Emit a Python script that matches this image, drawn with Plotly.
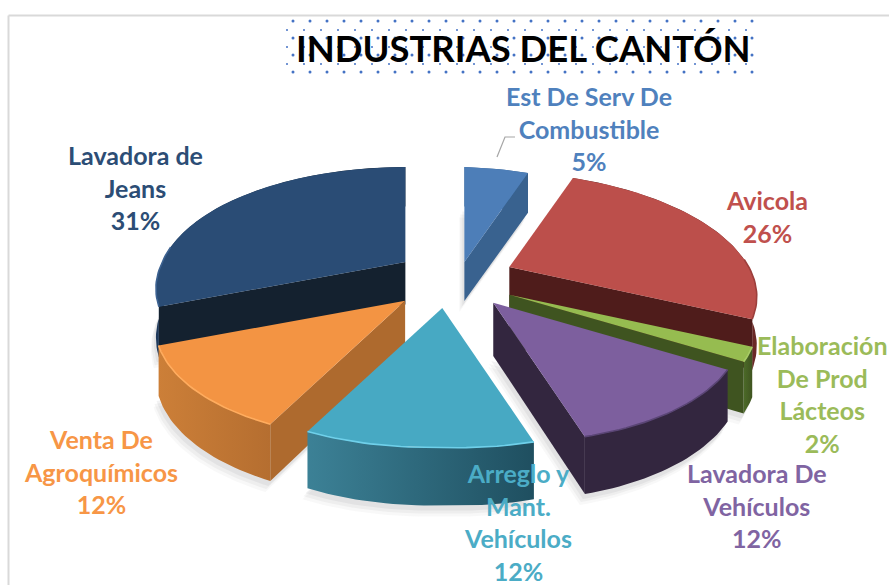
import numpy as np
import plotly.graph_objects as go

title = "INDUSTRIAS DEL CANTÓN"
categories = ["Est De Serv De<br>Combustible", "Avicola", "Elaboración<br>De Prod<br>Lácteos",
              "Lavadora De<br>Vehículos", "Arreglo y<br>Mant.<br>Vehículos",
              "Venta De<br>Agroquímicos", "Lavadora de<br>Jeans"]
values = [5, 26, 2, 12, 12, 12, 31]
text_colors = ["#4f81bd", "#c0504d", "#9bbb59", "#8064a2", "#4bacc6", "#f79646", "#2c4d75"]
top_colors = ["#4d7eb8", "#bc4f4b", "#96bc50", "#7d5f9e", "#47a9c3", "#f39443", "#2a4c75"]
cut_colors = ["#39628f", "#4f1c1b", "#3f5420", "#33263f", "#2c6275", "#ae6a2e", "#14212f"]
rim_left = ["#39628f", "#4f1c1b", "#4c6a28", "#33263f", "#3c8196", "#cc7f38", "#1f3a5c"]
rim_right = ["#39628f", "#6b2826", "#3f5420", "#33263f", "#1f4f60", "#b56e30", "#14212f"]
glint = ["#4d7eb8", "#9c3f3c", "#a8cc66", "#5a4575", "#6fd0ea", "#ffac5e", "#3d6291"]
label_xy = [(589, 128), (767, 216), (822, 394), (757, 505), (518, 522), (101, 471), (135, 187)]

# projection of the pie plane onto the page
CX, CY, R, TILT, PERSP, DEPTH, SHEAR, DROP = 455.0, 285.0, 243.0, 113.0, 0.19, 47.0, 9.0, 0.03
PULL_X, PULL_FRONT, PULL_BACK = 60.0, 23.0, 42.0


def apex(mid):
    """Page position of a pulled slice's point, and its wall height there."""
    s, c = np.sin(mid), np.cos(mid)
    dy = min(PULL_BACK * c, PULL_FRONT) if c > 0 else PULL_FRONT * c
    dx = PULL_X * s + (SHEAR * c if (c < 0 and s < 0) else 0.0)
    return CX + dx, CY - dy, DEPTH * (1 - 0.17 * c)


def rim(a0, a1, ax, ay, down=0.0):
    th = np.linspace(a0, a1, max(8, int((a1 - a0) * 40)))
    x, y = np.sin(th), np.cos(th)
    w = 1.0 / (1.0 + PERSP * y)
    sx = R * x * w + SHEAR * np.where(x < 0, np.minimum(y, 0), 0) * w
    sy = -TILT * y * w + DROP * np.maximum(sx, 0) + DEPTH * w * down
    return ax + sx, ay + sy, y


fig = go.Figure()


def poly(xs, ys, color=None, name="", gradient=None):
    kw = dict(fillgradient=gradient) if gradient else dict(fillcolor=color)
    fig.add_trace(go.Scatter(x=list(xs), y=list(ys), mode="lines", fill="toself", line=dict(width=0),
                             name=name, hoverinfo="skip", showlegend=False, **kw))


# slice angles, clockwise from 12 o'clock
edges = np.cumsum([0] + values) / sum(values) * 2 * np.pi
mids = (edges[:-1] + edges[1:]) / 2
order = np.argsort(-np.cos(mids))

# soft shadow under each slice
for i in order:
    ax, ay, h = apex(mids[i])
    bx, by, _ = rim(edges[i], edges[i + 1], ax, ay, 1.0)
    px, py = np.r_[ax, bx], np.r_[ay + h, by]
    for dx, dy, alpha in [(-5, 11, 0.05), (-4, 8, 0.07), (-2, 5, 0.09)]:
        poly(px + dx, py + dy, f"rgba(110,110,120,{alpha})")

for i in order:
    ax, ay, h = apex(mids[i])
    name = categories[i].replace("<br>", " ")
    tx, ty, yy = rim(edges[i], edges[i + 1], ax, ay)
    bx, by, _ = rim(edges[i], edges[i + 1], ax, ay, 1.0)
    grad = dict(type="horizontal", colorscale=[[0, rim_left[i]], [1, rim_right[i]]])
    poly(np.r_[tx, bx[::-1]], np.r_[ty, by[::-1]], name=name, gradient=grad)
    # cut walls, where they face the viewer
    low = ay + h
    for e, sign in [(0, 1), (-1, -1)]:
        area = ((tx[e] - ax) * (low - ay)) * sign
        if area < 0:
            poly([ax, tx[e], bx[e], ax], [ay, ty[e], by[e], low], cut_colors[i], name)
    # top face
    poly(np.r_[ax, tx], np.r_[ay, ty], top_colors[i], name)
    # bevel highlight on the front of the rim
    front = np.where(yy < 0.15, tx, np.nan)
    fig.add_trace(go.Scatter(x=front, y=ty, mode="lines", line=dict(color=glint[i], width=1.6),
                             hoverinfo="skip", showlegend=False, connectgaps=False))

# leader line of the first label
fig.add_trace(go.Scatter(x=[497, 505, 515], y=[157, 137, 137], mode="lines",
                         line=dict(color="#a6a6a6", width=1.2), hoverinfo="skip", showlegend=False))

# dotted frame of the title box
big_x, big_y = np.arange(293, 755, 17), np.arange(21, 73, 17)
small_x, small_y = np.arange(287, 755, 17), np.arange(30, 65, 17)
for gx, gy, size in [(big_x, big_y, 3), (small_x, small_y, 2)]:
    mx, my = np.meshgrid(gx, gy)
    fig.add_trace(go.Scatter(x=mx.ravel(), y=my.ravel(), mode="markers", hoverinfo="skip", showlegend=False,
                             marker=dict(color="#4472c4", size=size, line=dict(width=0))))

for cat, val, col, (lx, ly) in zip(categories, values, text_colors, label_xy):
    fig.add_annotation(x=lx, y=ly, text=f"<b>{cat}<br>{val}%</b>", showarrow=False, align="center",
                       xanchor="center", yanchor="middle", font=dict(family="Lato", size=25, color=col))

fig.add_annotation(x=523, y=48, text=f"<b>{title}</b>", showarrow=False, xanchor="center", yanchor="middle",
                   font=dict(family="Lato", size=36.4, color="#000000"))

# chart frame
fig.add_shape(type="line", x0=8.5, x1=889, y0=15.5, y1=15.5, line=dict(color="#d9d9d9", width=2))
fig.add_shape(type="line", x0=8.5, x1=8.5, y0=15.5, y1=585, line=dict(color="#d9d9d9", width=2))

fig.update_layout(width=889, height=585, margin=dict(l=0, r=0, t=0, b=0), paper_bgcolor="white",
                  plot_bgcolor="white", showlegend=False,
                  xaxis=dict(range=[0, 889], visible=False, fixedrange=True),
                  yaxis=dict(range=[585, 0], visible=False, fixedrange=True))
fig.write_html("out.html", config=dict(displayModeBar=False),
               post_script="document.body.style.margin='0';document.body.style.overflow='hidden';")
